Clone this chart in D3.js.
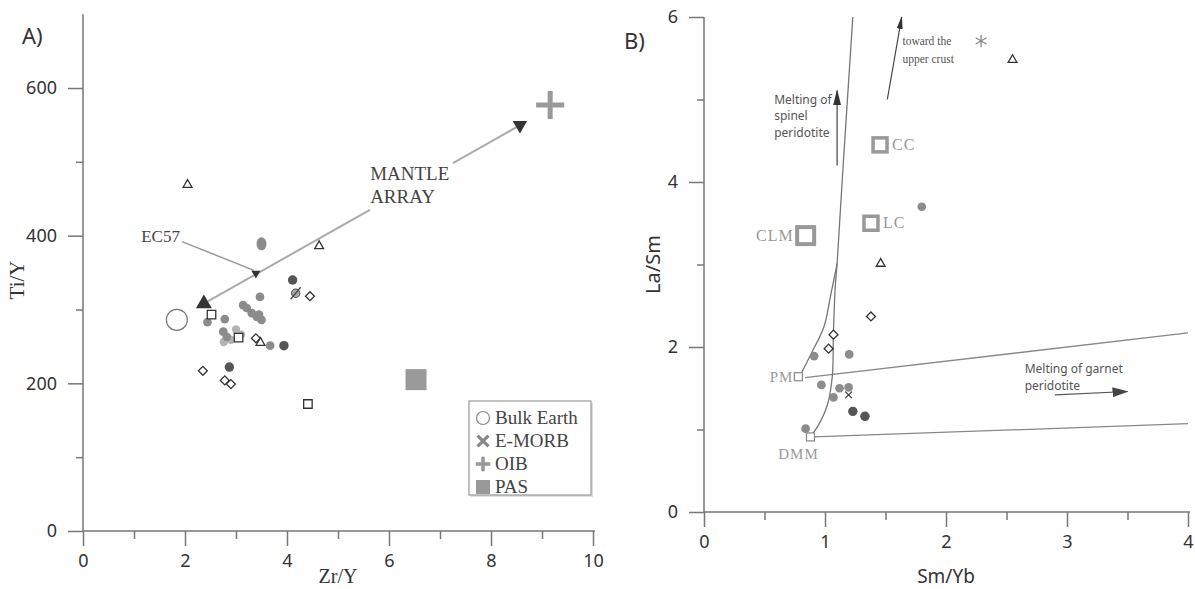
<!DOCTYPE html>
<html>
<head>
<meta charset="utf-8">
<script src="https://cdn.jsdelivr.net/npm/d3@7"></script>
<style>
  html, body { margin: 0; padding: 0; background: #fff; }
  svg { display: block; }
</style>
</head>
<body>
<svg id="chart" width="1195" height="589"></svg>
<script>
// ---------- Panel A: Ti/Y versus Zr/Y ----------
const zrTicks = [0, 2, 4, 6, 8, 10];
const zrMinor = [1, 3, 5, 7, 9];
const tiTicks = [0, 200, 400, 600];
const tiMinor = [100, 300, 500];

const aGrayCircles = [[2.44, 283], [2.78, 287], [3.14, 306], [3.21, 302], [3.31, 295], [3.41, 290],
                      [3.50, 286], [3.47, 317], [2.75, 270], [2.82, 263], [3.67, 251], [3.45, 293]];
const aPaleCircles = [[3.00, 273], [2.90, 259], [2.76, 256], [3.10, 266]];
const aDarkCircles = [[4.11, 340], [3.94, 251], [2.87, 222]];
const aOval = [[3.50, 389]];
const aSquares = [[2.52, 293], [3.05, 262], [4.41, 172]];
const aDiamonds = [[4.45, 318], [3.39, 261], [2.35, 217], [2.78, 204], [2.90, 199]];
const aTriangles = [[2.05, 469], [4.63, 386], [3.48, 255]];
const aEmorbSample = [[4.17, 322]];
const ec57 = [3.39, 349];
const bulkEarth = [1.84, 286];
const oib = [9.16, 577];
const pas = [6.53, 205];
const mantleArray = [[2.37, 308], [8.63, 552]];
const legendLabels = ["Bulk Earth", "E-MORB", "OIB", "PAS"];

// ---------- Panel B: La/Sm versus Sm/Yb ----------
const smTicks = [0, 1, 2, 3, 4];
const smMinor = [0.5, 1.5, 2.5, 3.5];
const laTicks = [0, 2, 4, 6];
const laMinor = [1, 3, 5];

const bGrayCircles = [[1.80, 3.70], [0.91, 1.89], [1.20, 1.91], [0.97, 1.54], [1.12, 1.50],
                      [1.195, 1.51], [1.07, 1.39], [0.84, 1.01]];
const bDarkCircles = [[1.23, 1.22], [1.33, 1.16]];
const bDiamonds = [[1.38, 2.37], [1.07, 2.15], [1.03, 1.98]];
const bTriangles = [[2.55, 5.48], [1.46, 3.01]];
const bEmorbSample = [[1.195, 1.42]];
const upperCrust = [2.29, 5.71];
const crustNames = ["CC", "LC", "CLM"];
const crustSmYb = [1.455, 1.38, 0.84];
const crustLaSm = [4.45, 3.50, 3.35];
const mantleNames = ["PM", "DMM"];
const mantleSmYb = [0.78, 0.88];
const mantleLaSm = [1.64, 0.91];
const pmTrend = [[0.835, 1.63], [4.0, 2.17]];
const dmmTrend = [[0.90, 0.91], [4.0, 1.07]];
const pmSpinelCurve = [[0.79, 1.64], [0.90, 1.96], [0.99, 2.24], [1.05, 2.65], [1.10, 3.01]];
const dmmSpinelCurve = [[0.88, 0.91], [0.96, 1.09], [1.02, 1.30], [1.06, 1.64], [1.07, 2.19],
                        [1.085, 2.74], [1.10, 3.01], [1.15, 4.2], [1.23, 6.0]];
const spinelArrow = [[1.10, 4.20], [1.10, 5.11]];
const crustArrow = [[1.515, 5.0], [1.634, 6.0]];
const garnetArrow = [[2.90, 1.42], [3.50, 1.46]];

// ---------- shared styling ----------
const sans = "'Noto Sans', 'Liberation Sans', sans-serif";
const serif = "'Liberation Serif', 'DejaVu Serif', serif";
const axisColor = "#777";
const tickText = "#333";
const svg = d3.select("#chart");

const defs = svg.append("defs");
function arrowMarker(id, w, l, color) {
  defs.append("marker").attr("id", id)
    .attr("viewBox", `0 0 ${l} ${w}`).attr("refX", l - 1).attr("refY", w / 2)
    .attr("markerWidth", l).attr("markerHeight", w).attr("markerUnits", "userSpaceOnUse")
    .attr("orient", "auto")
    .append("path").attr("d", `M0,0L${l},${w / 2}L0,${w}Z`).attr("fill", color);
}
arrowMarker("headSpinel", 8, 16, "#333");
arrowMarker("headCrust", 6, 13, "#333");
arrowMarker("headGarnet", 10, 16, "#444");

function symbols(g, data, x, y, type, size, fill, stroke, sw, rot = 0) {
  g.selectAll(null).data(data).enter().append("path")
    .attr("d", d3.symbol().type(type).size(size))
    .attr("transform", d => `translate(${x(d[0])},${y(d[1])}) rotate(${rot})`)
    .attr("fill", fill).attr("stroke", stroke).attr("stroke-width", sw);
}

function styleAxis(g, showText) {
  g.select(".domain").remove();
  g.selectAll("line").attr("stroke", axisColor).attr("stroke-width", 1.5);
  g.selectAll("text").attr("font-family", sans).attr("font-size", 18).attr("fill", tickText);
  if (!showText) g.selectAll("text").remove();
}

function drawFrame(g, x, y, xMajor, xMinor, yMajor, yMinor, yTop) {
  const [x0, x1] = x.domain();
  g.append("line").attr("x1", x(x0)).attr("x2", x(x1) + 2)
    .attr("y1", y(0)).attr("y2", y(0)).attr("stroke", axisColor).attr("stroke-width", 1.5);
  g.append("line").attr("x1", x(0)).attr("x2", x(0))
    .attr("y1", y(0)).attr("y2", y(yTop)).attr("stroke", axisColor).attr("stroke-width", 1.5);
  g.append("g").attr("transform", `translate(0,${y(0)})`)
    .call(d3.axisBottom(x).tickValues(xMajor).tickSize(15).tickPadding(8).tickFormat(d3.format("d")))
    .call(a => styleAxis(a, true));
  g.append("g").attr("transform", `translate(0,${y(0)})`)
    .call(d3.axisBottom(x).tickValues(xMinor).tickSize(8).tickFormat(""))
    .call(a => styleAxis(a, false));
  g.append("g").attr("transform", `translate(${x(0)},0)`)
    .call(d3.axisLeft(y).tickValues(yMajor).tickSize(15).tickPadding(11).tickFormat(d3.format("d")))
    .call(a => styleAxis(a, true));
  g.append("g").attr("transform", `translate(${x(0)},0)`)
    .call(d3.axisLeft(y).tickValues(yMinor).tickSize(7).tickFormat(""))
    .call(a => styleAxis(a, false));
}

// ================= Panel A =================
const xA = d3.scaleLinear().domain([0, 10]).range([83, 593]);
const yA = d3.scaleLinear().domain([0, 600]).range([531, 88]);
const gA = svg.append("g");
drawFrame(gA, xA, yA, zrTicks, zrMinor, tiTicks, tiMinor, 700);

gA.append("text").attr("x", 22).attr("y", 44).text("A)")
  .attr("font-family", sans).attr("font-size", 22).attr("fill", "#333");
gA.append("text").attr("transform", `translate(24,${yA(340)}) rotate(-90)`)
  .attr("text-anchor", "middle").text("Ti/Y")
  .attr("font-family", serif).attr("font-size", 21).attr("fill", "#333");
gA.append("text").attr("x", xA(5)).attr("y", 583).attr("text-anchor", "middle").text("Zr/Y")
  .attr("font-family", serif).attr("font-size", 20).attr("fill", "#333");

// mantle array, interrupted where its label sits
const maAt = t => [d3.interpolateNumber(mantleArray[0][0], mantleArray[1][0])(t),
                   d3.interpolateNumber(mantleArray[0][1], mantleArray[1][1])(t)];
const maLine = d3.line().x(d => xA(d[0])).y(d => yA(d[1]));
[[0, 0.52], [0.78, 1]].forEach(([t0, t1]) => {
  gA.append("path").attr("d", maLine([maAt(t0), maAt(t1)]))
    .attr("stroke", "#aaa").attr("stroke-width", 2).attr("fill", "none");
});
symbols(gA, [mantleArray[0]], xA, yA, d3.symbolTriangle, 110, "#333", "none", 0);
symbols(gA, [maAt(0.99)], xA, yA, d3.symbolTriangle, 90, "#333", "none", 0, 180);
gA.append("text").attr("font-family", serif).attr("font-size", 19).attr("fill", "#444")
  .selectAll("tspan").data(["MANTLE", "ARRAY"]).enter().append("tspan")
  .attr("x", xA(5.63)).attr("y", (d, i) => yA(475) + i * 23).text(d => d);

// EC57 pointer
gA.append("line").attr("x1", xA(1.94)).attr("y1", yA(392)).attr("x2", xA(ec57[0]) - 2).attr("y2", yA(ec57[1]) - 3)
  .attr("stroke", "#999").attr("stroke-width", 1.5);
gA.append("text").attr("x", xA(1.9)).attr("y", yA(392)).attr("text-anchor", "end").text("EC57")
  .attr("font-family", serif).attr("font-size", 17).attr("fill", "#444");
symbols(gA, [ec57], xA, yA, d3.symbolTriangle, 36, "#333", "none", 0, 180);

// samples
symbols(gA, aPaleCircles, xA, yA, d3.symbolCircle, 55, "#b3b3b3", "none", 0);
symbols(gA, aGrayCircles, xA, yA, d3.symbolCircle, 60, "#8c8c8c", "none", 0);
gA.selectAll(null).data(aOval).enter().append("ellipse")
  .attr("cx", d => xA(d[0])).attr("cy", d => yA(d[1])).attr("rx", 5).attr("ry", 6.5).attr("fill", "#8c8c8c");
symbols(gA, aDarkCircles, xA, yA, d3.symbolCircle, 70, "#555", "none", 0);
symbols(gA, aSquares, xA, yA, d3.symbolSquare, 72, "#fff", "#333", 1.3);
symbols(gA, aDiamonds, xA, yA, d3.symbolSquare, 40, "#fff", "#333", 1.3, 45);
symbols(gA, aTriangles, xA, yA, d3.symbolTriangle, 34, "#fff", "#333", 1.3);
symbols(gA, aEmorbSample, xA, yA, d3.symbolCircle, 55, "#aaa", "#555", 1.1);
gA.selectAll(null).data(aEmorbSample).enter().append("line")
  .attr("x1", d => xA(d[0]) - 5).attr("y1", d => yA(d[1]) + 6)
  .attr("x2", d => xA(d[0]) + 5).attr("y2", d => yA(d[1]) - 6)
  .attr("stroke", "#444").attr("stroke-width", 1.2);

// reference reservoirs
gA.append("circle").attr("cx", xA(bulkEarth[0])).attr("cy", yA(bulkEarth[1])).attr("r", 10.5)
  .attr("fill", "#fff").attr("stroke", "#777").attr("stroke-width", 1.2);
gA.append("rect").attr("x", xA(pas[0]) - 10.5).attr("y", yA(pas[1]) - 10.5)
  .attr("width", 21).attr("height", 21).attr("fill", "#9a9a9a");
symbols(gA, [oib], xA, yA, d3.symbolPlus, 260, "none", "#999", 5);

// legend
const lg = gA.append("g").attr("transform", "translate(469,401)");
lg.append("rect").attr("x", 2).attr("y", 2).attr("width", 122).attr("height", 94).attr("fill", "#ddd");
lg.append("rect").attr("width", 122).attr("height", 94).attr("fill", "#fff").attr("stroke", "#999").attr("stroke-width", 1.2);
const lgRow = d3.scalePoint().domain(legendLabels).range([17, 86]);
lg.selectAll(null).data(legendLabels).enter().append("text")
  .attr("x", 26).attr("y", d => lgRow(d) + 6).text(d => d)
  .attr("font-family", serif).attr("font-size", 19).attr("fill", "#444");
lg.append("circle").attr("cx", 14).attr("cy", lgRow("Bulk Earth")).attr("r", 6.5)
  .attr("fill", "#fff").attr("stroke", "#888").attr("stroke-width", 1.2);
lg.append("path").attr("d", d3.symbol().type(d3.symbolTimes).size(80))
  .attr("transform", `translate(14,${lgRow("E-MORB")})`).attr("stroke", "#888").attr("stroke-width", 3.2).attr("fill", "none");
lg.append("path").attr("d", d3.symbol().type(d3.symbolPlus).size(70))
  .attr("transform", `translate(14,${lgRow("OIB")})`).attr("fill", "none").attr("stroke", "#999").attr("stroke-width", 3.6);
lg.append("rect").attr("x", 7).attr("y", lgRow("PAS") - 7).attr("width", 14).attr("height", 14).attr("fill", "#999");

// ================= Panel B =================
const xB = d3.scaleLinear().domain([0, 4]).range([704, 1188]);
const yB = d3.scaleLinear().domain([0, 6]).range([512, 17]);
const gB = svg.append("g");
drawFrame(gB, xB, yB, smTicks, smMinor, laTicks, laMinor, 6);

gB.append("text").attr("x", 624).attr("y", 49).text("B)")
  .attr("font-family", sans).attr("font-size", 22).attr("fill", "#333");
gB.append("text").attr("transform", `translate(660,${yB(3)}) rotate(-90)`)
  .attr("text-anchor", "middle").text("La/Sm")
  .attr("font-family", sans).attr("font-size", 20).attr("fill", "#333");
gB.append("text").attr("x", xB(2)).attr("y", 583).attr("text-anchor", "middle").text("Sm/Yb")
  .attr("font-family", sans).attr("font-size", 19).attr("fill", "#333");

const lineB = d3.line().x(d => xB(d[0])).y(d => yB(d[1]));
const curveB = d3.line().x(d => xB(d[0])).y(d => yB(d[1])).curve(d3.curveCatmullRom);
[pmTrend, dmmTrend].forEach(t => gB.append("path").attr("d", lineB(t))
  .attr("stroke", "#888").attr("stroke-width", 1.3).attr("fill", "none"));
[pmSpinelCurve, dmmSpinelCurve].forEach(c => gB.append("path").attr("d", curveB(c))
  .attr("stroke", "#777").attr("stroke-width", 1.3).attr("fill", "none"));

gB.append("path").attr("d", lineB(spinelArrow)).attr("stroke", "#444").attr("stroke-width", 1.2)
  .attr("fill", "none").attr("marker-end", "url(#headSpinel)");
gB.append("path").attr("d", lineB(crustArrow)).attr("stroke", "#444").attr("stroke-width", 1.2)
  .attr("fill", "none").attr("marker-end", "url(#headCrust)");
gB.append("path").attr("d", lineB(garnetArrow)).attr("stroke", "#555").attr("stroke-width", 1.1)
  .attr("fill", "none").attr("marker-end", "url(#headGarnet)");

function noteLines(lines, x, y, font, size, color, lh) {
  gB.append("text").attr("font-family", font).attr("font-size", size).attr("fill", color)
    .selectAll("tspan").data(lines).enter().append("tspan")
    .attr("x", x).attr("y", (d, i) => y + i * lh).text(d => d);
}
noteLines(["Melting of", "spinel", "peridotite"], xB(0.58), yB(4.95), sans, 12, "#555", 16.5);
noteLines(["toward the", "upper crust"], xB(1.64), yB(5.66), serif, 11.5, "#555", 17.5);
noteLines(["Melting of garnet", "peridotite"], xB(2.65), yB(1.68), sans, 12, "#555", 16.5);

// reservoir squares and names
crustNames.forEach((n, i) => {
  const s = n === "CLM" ? 17 : 14;
  gB.append("rect").attr("x", xB(crustSmYb[i]) - s / 2).attr("y", yB(crustLaSm[i]) - s / 2)
    .attr("width", s).attr("height", s).attr("fill", "#fff").attr("stroke", "#999")
    .attr("stroke-width", n === "CLM" ? 4 : 3.5);
  gB.append("text").attr("x", xB(crustSmYb[i]) + (n === "CLM" ? -12 : 12)).attr("y", yB(crustLaSm[i]) + 5)
    .attr("text-anchor", n === "CLM" ? "end" : "start").text(n)
    .attr("font-family", serif).attr("font-size", 16).attr("fill", "#999").attr("letter-spacing", 1);
});
mantleNames.forEach((n, i) => {
  gB.append("rect").attr("x", xB(mantleSmYb[i]) - 4).attr("y", yB(mantleLaSm[i]) - 4)
    .attr("width", 8).attr("height", 8).attr("fill", "#fff").attr("stroke", "#888").attr("stroke-width", 1.2);
  if (n === "PM") {
    gB.append("text").attr("x", xB(mantleSmYb[i]) - 5).attr("y", yB(mantleLaSm[i]) + 5)
      .attr("text-anchor", "end").text(n)
      .attr("font-family", serif).attr("font-size", 15).attr("fill", "#999").attr("letter-spacing", 1);
  } else {
    gB.append("text").attr("x", xB(mantleSmYb[i]) - 12).attr("y", yB(mantleLaSm[i]) + 22)
      .attr("text-anchor", "middle").text(n)
      .attr("font-family", serif).attr("font-size", 15).attr("fill", "#999").attr("letter-spacing", 1);
  }
});

// samples
symbols(gB, bGrayCircles, xB, yB, d3.symbolCircle, 60, "#8c8c8c", "none", 0);
symbols(gB, bDarkCircles, xB, yB, d3.symbolCircle, 70, "#555", "none", 0);
symbols(gB, bDiamonds, xB, yB, d3.symbolSquare, 40, "#fff", "#333", 1.3, 45);
symbols(gB, bTriangles, xB, yB, d3.symbolTriangle, 34, "#fff", "#333", 1.3);
symbols(gB, bEmorbSample, xB, yB, d3.symbolTimes, 30, "none", "#333", 1.2);
symbols(gB, [upperCrust], xB, yB, d3.symbolAsterisk, 110, "none", "#888", 1.3);
</script>
</body>
</html>
